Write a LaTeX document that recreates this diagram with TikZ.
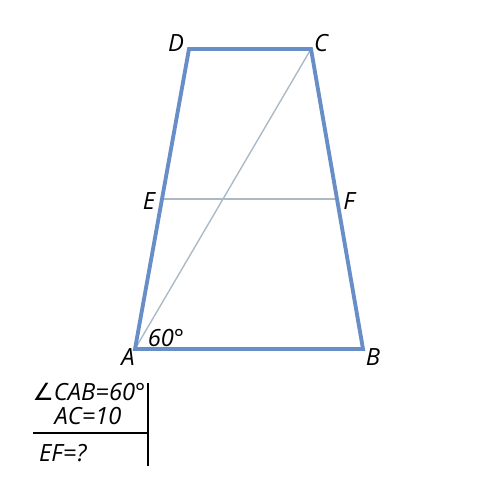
\documentclass[tikz,border=0pt]{standalone}
\usepackage{fontspec}
\setmainfont{Open Sans}
\newfontfamily\symfont{DejaVu Sans}
\usetikzlibrary{calc}
\usepackage{xcolor}
\definecolor{trapblue}{RGB}{104,142,200}
\definecolor{lightgray}{RGB}{172,186,198}

\begin{document}
\begin{tikzpicture}[x=0.02cm, y=-0.02cm, font=\fontsize{13.5}{15}\selectfont\itshape]
\useasboundingbox (0,0) rectangle (500,500);
\tikzset{side/.style={trapblue, line width=2.2pt, line join=miter},
 thin line/.style={lightgray, line width=0.8pt},
 rule/.style={black, line width=1pt}}
\coordinate (A) at (135,349);
\coordinate (B) at (363,349);
\coordinate (C) at (311,49);
\coordinate (D) at (189,49);
\coordinate (E) at ($(A)!0.5!(D)$);
\coordinate (F) at ($(B)!0.5!(C)$);
% diagonal and midline
\draw[thin line] (A) -- (C);
\draw[thin line] (E) -- (F);
\draw[side] (A) -- (B) -- (C) -- (D) -- cycle;
% labels
\node (lA) at (128,357) {A};
\node (lB) at (373,357) {B};
\node (lC) at (321,43) {C};
\node (lD) at (176,43) {D};
\node (lE) at (149,201) {E};
\node (lF) at (349,201) {F};
\node (ang) at (166,338) {60°};
% given and asked
\coordinate (vtop) at (148,383);
\coordinate (vbot) at (148,466);
\coordinate (hl) at (33,433);
\coordinate (hr) at (148,433);
\draw[rule] (vtop) -- (vbot);
\draw[rule] (hl) -- (hr);
\node (given1) at (89,392) {{\symfont\upshape ∠}CAB=60°};
\node (given2) at (88,416) {AC=10};
\node[anchor=west] (asked) at (33,453) {EF=?};
\end{tikzpicture}
\end{document}
